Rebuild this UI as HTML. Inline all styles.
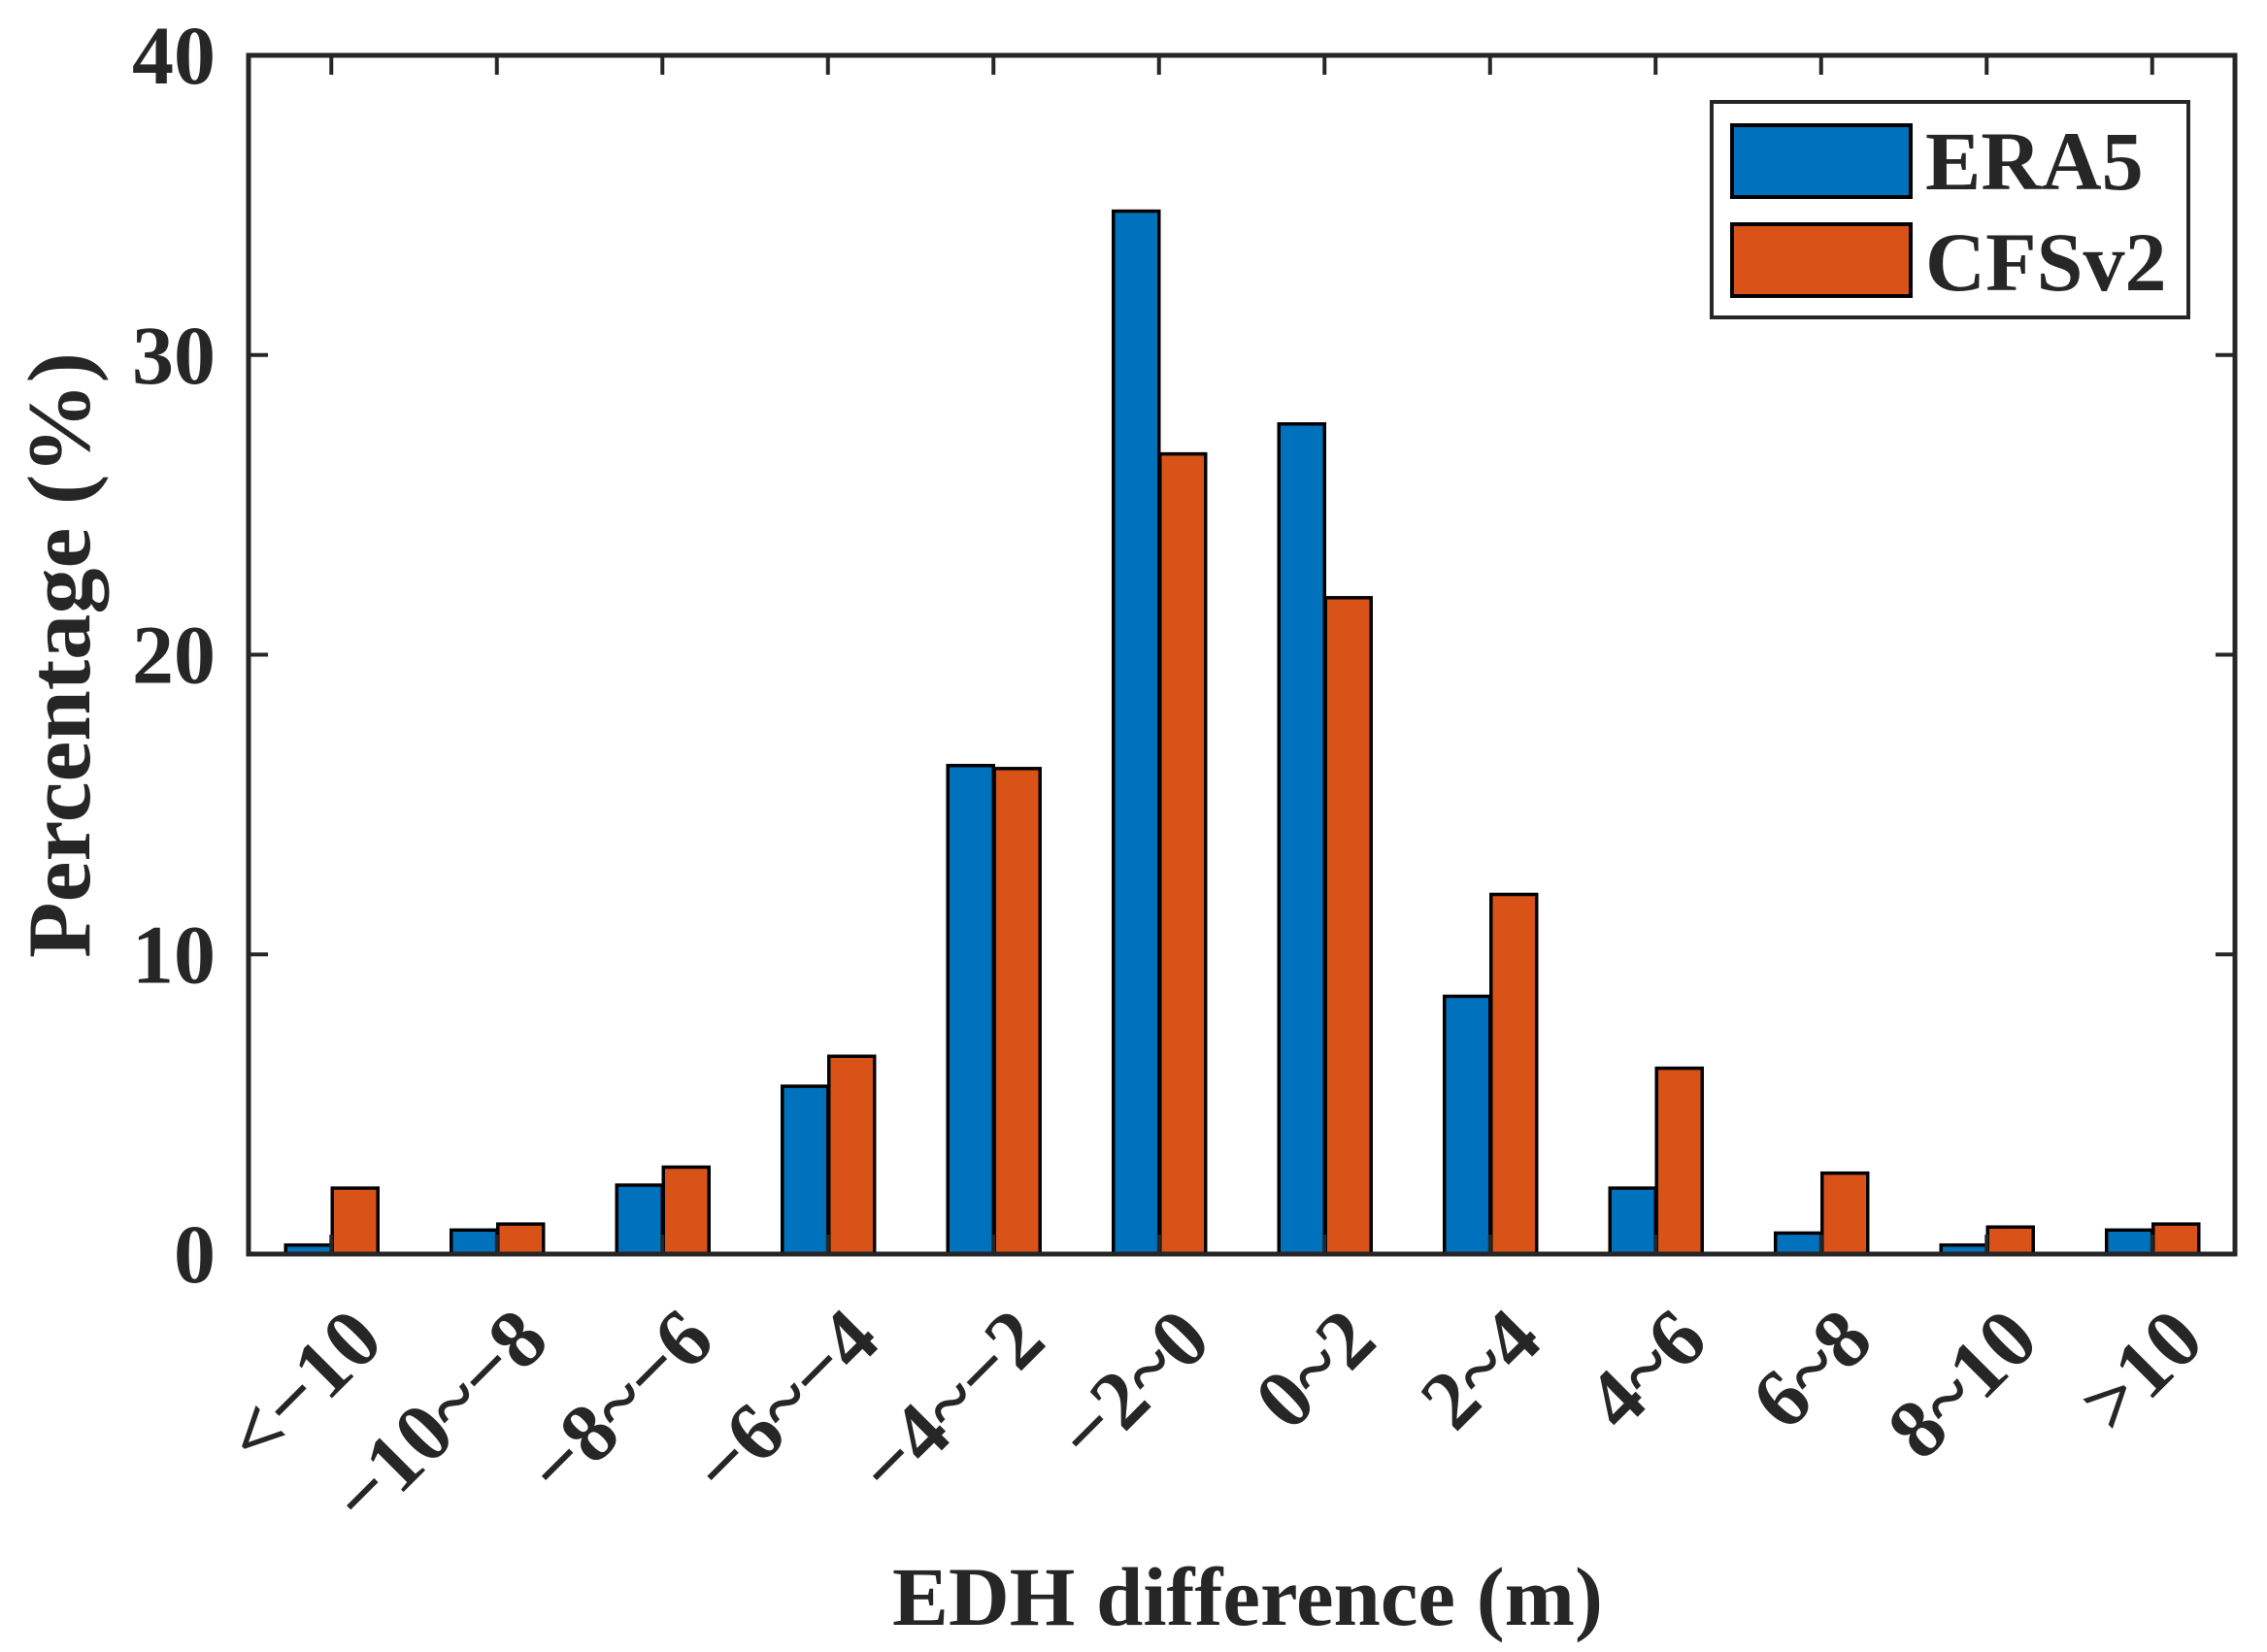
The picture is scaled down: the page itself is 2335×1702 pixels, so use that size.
<!DOCTYPE html>
<html><head><meta charset="utf-8"><style>
html,body{margin:0;padding:0;background:#fff;}
svg{display:block;}
text{font-family:"Liberation Serif","Times New Roman",serif;font-weight:bold;fill:#262626;}
</style></head>
<body>
<svg id="chart" width="2335" height="1702" viewBox="0 0 2335 1702" xmlns="http://www.w3.org/2000/svg">
<rect x="0" y="0" width="2335" height="1702" fill="#fff"/>
<g id="bars"></g>
<g id="axes"></g>
<g id="legend">
  <rect x="1763" y="105" width="491" height="222" fill="#fff" stroke="#262626" stroke-width="4"/>
  <rect x="1784" y="129" width="184" height="74" fill="#0072BD" stroke="#000" stroke-width="4"/>
  <text x="1983" y="195" font-size="86" fill="#000">ERA5</text>
  <rect x="1784" y="231" width="184" height="74" fill="#D95319" stroke="#000" stroke-width="4"/>
  <text x="1983" y="299" font-size="86" fill="#000">CFSv2</text>
</g>
<text x="0" y="0" font-size="92" text-anchor="middle" textLength="624" lengthAdjust="spacingAndGlyphs" transform="translate(92,675) rotate(-90)">Percentage (%)</text>
<text x="1285" y="1674" font-size="86" text-anchor="middle" textLength="732" lengthAdjust="spacingAndGlyphs">EDH difference (m)</text>
</svg>
<script>
const categories = ["<\u221210","\u221210~\u22128","\u22128~\u22126","\u22126~\u22124","\u22124~\u22122","\u22122~0","0~2","2~4","4~6","6~8","8~10",">10"];
const era5 = [0.3, 0.8, 2.3, 5.6, 16.3, 34.8, 27.7, 8.6, 2.2, 0.7, 0.3, 0.8];
const cfsv2 = [2.2, 1.0, 2.9, 6.6, 16.2, 26.7, 21.9, 12.0, 6.2, 2.7, 0.9, 1.0];
const yTicks = [0, 10, 20, 30, 40];

const L = 256, R = 2302, T = 57, B = 1292, yMax = 40;
const NS = "http://www.w3.org/2000/svg";
function xPos(i){ return L + (R - L) / categories.length * (i + 0.5); }
function yPos(v){ return B - (B - T) * v / yMax; }
const barW = 49;
function mk(tag, attrs, parent){
  const e = document.createElementNS(NS, tag);
  for (const k in attrs) e.setAttribute(k, attrs[k]);
  parent.appendChild(e);
  return e;
}
const gb = document.getElementById('bars');
const ga = document.getElementById('axes');
categories.forEach((c, i) => {
  const cx = xPos(i);
  const b1 = mk('rect', {x: cx - barW + 2, y: yPos(era5[i]), width: barW - 2, height: B - yPos(era5[i]), fill: '#0072BD', stroke: '#000', 'stroke-width': 3.5}, gb);
  
  
  const b2 = mk('rect', {x: cx + 1, y: yPos(cfsv2[i]), width: barW - 2, height: B - yPos(cfsv2[i]), fill: '#D95319', stroke: '#000', 'stroke-width': 3.5}, gb);
  
  
  const t1 = mk('line', {x1: cx, x2: cx, y1: B, y2: B - 20, stroke: '#262626', 'stroke-width': 4}, ga);
  
  
  const t2 = mk('line', {x1: cx, x2: cx, y1: T, y2: T + 20, stroke: '#262626', 'stroke-width': 4}, ga);
  
  
  const lbl = mk('text', {x: 0, y: 0, 'font-size': 86, 'text-anchor': 'end', 'dominant-baseline': 'central', transform: 'translate(' + (cx + 36) + ',' + (B + 72) + ') rotate(-45)'}, ga);
  lbl.textContent = c;
  
  
});
yTicks.forEach(v => {
  const y = yPos(v);
  const a = mk('line', {x1: L, x2: L + 20, y1: y, y2: y, stroke: '#262626', 'stroke-width': 4}, ga);
  
  
  const b = mk('line', {x1: R, x2: R - 20, y1: y, y2: y, stroke: '#262626', 'stroke-width': 4}, ga);
  
  
  const t = mk('text', {x: 222, y: y + 29, 'font-size': 86, 'text-anchor': 'end'}, ga);
  t.textContent = v;
  
  
});
const box = mk('rect', {x: L, y: T, width: R - L, height: B - T, fill: 'none', stroke: '#262626', 'stroke-width': 5}, ga);


</script>
</body></html>
